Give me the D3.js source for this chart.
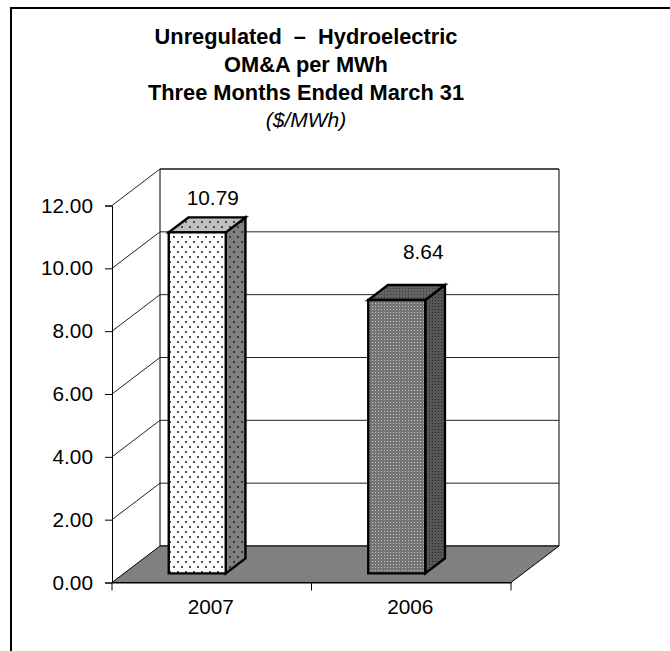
<!DOCTYPE html>
<html><head><meta charset="utf-8">
<script src="https://cdnjs.cloudflare.com/ajax/libs/d3/7.8.5/d3.min.js"></script>
<style>
html,body{margin:0;padding:0;background:#fff}
svg{display:block}
text{font-family:"Liberation Sans",Arial,sans-serif;fill:#000;white-space:pre}
</style></head><body>
<svg id="c" width="670" height="651"></svg>
<script>
const categories = ["2007","2006"];
const values = [10.79,8.64];
const yTicks = [0,2,4,6,8,10,12];
const titleLines = ["Unregulated  –  Hydroelectric","OM&A per MWh","Three Months Ended March 31"];
const unitLine = "($/MWh)";

const svg = d3.select("#c");
const x = d3.scaleBand().domain(categories).range([112,511]);
const y = d3.scaleLinear().domain([0,12]).range([582.5,205.5]);
const DX = 48, DY = -36.5;               // depth vector of the 3D box
const P = (px,v,z,lift=0)=>[px+z*DX, y(v)+z*DY-lift];
const poly = pts=>pts.map(p=>p.join(",")).join(" ");

// patterns
const defs = svg.append("defs");
function dots(id,bg,dot){
  const p = defs.append("pattern").attr("id",id).attr("width",8).attr("height",10).attr("patternUnits","userSpaceOnUse");
  p.append("rect").attr("width",8).attr("height",10).attr("fill",bg);
  p.append("rect").attr("x",1).attr("y",1).attr("width",2).attr("height",2).attr("fill",dot);
  p.append("rect").attr("x",5).attr("y",6).attr("width",2).attr("height",2).attr("fill",dot);
}
dots("pFront","#fff","#505050");
dots("pTop","#c0c0c0","#484848");
dots("pSide","#808080","#383838");
function checker(id,a,b){
  const p = defs.append("pattern").attr("id",id).attr("width",3).attr("height",3).attr("patternUnits","userSpaceOnUse");
  p.append("rect").attr("width",3).attr("height",3).attr("fill",a);
  p.append("rect").attr("width",1).attr("height",1).attr("fill",b);
}
checker("cFront","#747474","#c4c4c4");
checker("cTop","#626262","#383838");
checker("cSide","#565656","#282828");

// outer frame (top and left only)
svg.append("path").attr("d","M11,651V8H670").attr("fill","none").attr("stroke","#000").attr("stroke-width",2);

// title
const t = svg.append("g").attr("text-anchor","middle");
[44,72,100].forEach((b,i)=>t.append("text").attr("x",306).attr("y",b)
  .attr("font-size",21.8).attr("font-weight","bold").text(titleLines[i]));
t.append("text").attr("x",306).attr("y",127).attr("font-size",21).attr("font-style","italic").text(unitLine);

const x0=112,x1=511;
// back wall
svg.append("polygon").attr("points",poly([P(x0,0,1),P(x0,12,1),P(x1,12,1),P(x1,0,1)]))
  .attr("fill","#fff").attr("stroke","#000");
// floor
svg.append("polygon").attr("points",poly([P(x0,0,0),P(x1,0,0),P(x1,0,1),P(x0,0,1)]))
  .attr("fill","#808080").attr("stroke","#000");
// gridlines: side wall + back wall
const grid = svg.append("g").attr("fill","none").attr("stroke","#222").attr("stroke-width",1);
yTicks.filter(v=>v>0).forEach(v=>{
  grid.append("polyline").attr("points",poly([P(x0,v,0),P(x0,v,1),P(x1,v,1)]));
});

// axes
const ax = d3.axisLeft(y).tickValues(yTicks).tickFormat(d3.format(".2f")).tickSize(7).tickPadding(12);
const gy = svg.append("g").attr("transform",`translate(${x0},0)`).call(ax);
const bx = d3.axisBottom(x).tickSizeInner(0).tickSizeOuter(0).tickPadding(17);
const gx = svg.append("g").attr("transform",`translate(0,${y(0)})`).call(bx);
[x0,x0+x.bandwidth(),x1].forEach(px=>gx.append("line").attr("x1",px).attr("x2",px).attr("y1",0).attr("y2",8).attr("stroke","#000"));
svg.selectAll(".tick text").attr("font-size",20.8).attr("font-family","Liberation Sans").attr("fill","#000");
svg.selectAll(".tick line,.domain").attr("stroke","#000");
gx.selectAll(".tick text").attr("dx",-1);

// bars
const zF=0.25, zB=0.66, L=-55, W=57, LIFT=2;
const pats=[["pFront","pTop","pSide"],["cFront","cTop","cSide"]];
categories.forEach((c,i)=>{
  const cx=x(c)+x.bandwidth()/2, a=cx+L, b=a+W, v=values[i];
  const g=svg.append("g").attr("stroke","#000").attr("stroke-width",2.4).attr("stroke-linejoin","miter");
  g.append("polygon").attr("fill",`url(#${pats[i][2]})`).attr("points",poly([P(b,0,zF),P(b,v,zF,LIFT),P(b,v,zB,LIFT),P(b,0,zB)]));
  g.append("polygon").attr("fill",`url(#${pats[i][1]})`).attr("points",poly([P(a,v,zF,LIFT),P(b,v,zF,LIFT),P(b,v,zB,LIFT),P(a,v,zB,LIFT)]));
  g.append("polygon").attr("fill",`url(#${pats[i][0]})`).attr("points",poly([P(a,0,zF),P(b,0,zF),P(b,v,zF,LIFT),P(a,v,zF,LIFT)]));
});

// data labels
const labelOff=[[1,-39],[12,-52]];
categories.forEach((c,i)=>{
  svg.append("text").attr("text-anchor","middle").attr("font-size",20.8)
    .attr("x",x(c)+x.bandwidth()/2+labelOff[i][0]).attr("y",y(values[i])+labelOff[i][1])
    .text(values[i].toFixed(2));
});
</script></body></html>
